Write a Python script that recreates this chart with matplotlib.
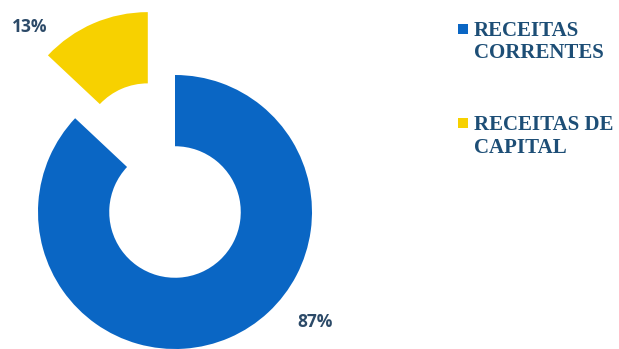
import matplotlib
matplotlib.use("Agg")
import matplotlib.pyplot as plt
from matplotlib.patches import Rectangle

categories = ["RECEITAS CORRENTES", "RECEITAS DE CAPITAL"]
legend_lines = [["RECEITAS", "CORRENTES"], ["RECEITAS DE", "CAPITAL"]]
values = [87, 13]
labels = ["87%", "13%"]
colors = ["#0A66C4", "#F7D100"]
explode = [0.0, 0.5]

W, H = 619, 349
fig = plt.figure(figsize=(W / 100, H / 100), dpi=100)
ax = fig.add_axes([0, 0, 1, 1])
R = 137.0
cx, cy = 175.0, 212.0

wedges, _ = ax.pie(values, colors=colors, startangle=90, counterclock=False,
                   explode=explode, radius=1.0,
                   wedgeprops=dict(width=0.52, linewidth=0),
                   frame=True)
ax.set_xlim(-cx / R, (W - cx) / R)
ax.set_ylim((cy - H) / R, cy / R)
ax.set_aspect("auto")
ax.axis("off")

label_color = "#2C4A68"
ax.text((315 - cx) / R, (cy - 322) / R, labels[0], fontsize=12.5, fontweight="bold",
        color=label_color, family="Open Sans", ha="center", va="center")
ax.text((30 - cx) / R, (cy - 27) / R, labels[1], fontsize=12.5, fontweight="bold",
        color=label_color, family="Open Sans", ha="center", va="center")

# legend
leg_color = "#1D4E76"
first_centers = [29, 123]
for i, lines in enumerate(legend_lines):
    y0 = first_centers[i]
    fig.patches.append(Rectangle((458 / W, 1 - (y0 + 5) / H), 10 / W, 10 / H,
                                 transform=fig.transFigure, color=colors[i], linewidth=0))
    for j, t in enumerate(lines):
        fig.text(474 / W, 1 - (y0 + j * 22) / H, t, fontsize=15, fontweight="bold",
                 color=leg_color, family="Liberation Serif", ha="left", va="center_baseline")

fig.savefig("out.png", dpi=100, facecolor="white")
